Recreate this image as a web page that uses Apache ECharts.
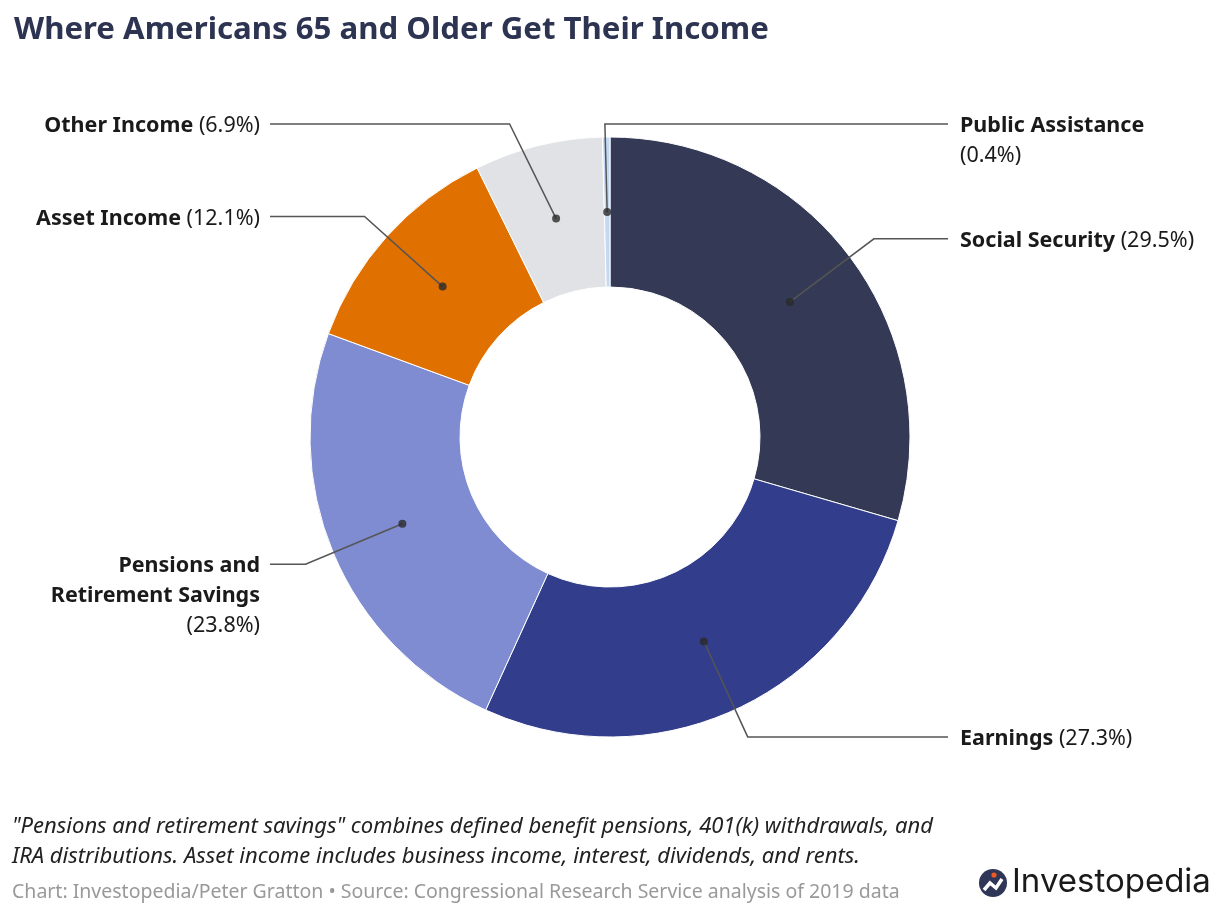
<!DOCTYPE html>
<html>
<head>
<meta charset="utf-8">
<script src="https://cdn.jsdelivr.net/npm/echarts@6/dist/echarts.min.js"></script>
<style>
html,body{margin:0;padding:0;background:#fff;}
#chart{width:1220px;height:916px;}
</style>
</head>
<body>
<div id="chart"></div>
<script>
// ---- data ----
const categories = ['Social Security', 'Earnings', 'Pensions and Retirement Savings', 'Asset Income', 'Other Income', 'Public Assistance'];
const labelNames = ['Social Security', 'Earnings', 'Pensions and\nRetirement Savings', 'Asset Income', 'Other Income', 'Public Assistance'];
const shares = [29.5, 27.3, 23.8, 12.1, 6.9, 0.4];
const colors = ['#343a55', '#323e8b', '#7f8cd1', '#e07000', '#e1e2e6', '#c3d9f5'];
const pctOnNewLine = [false, false, true, false, false, true];

// ---- layout constants ----
const CX = 610, CY = 437, R_IN = 150, R_OUT = 300, R_DOT = 225, R_ELBOW = 330;
const TOP_LIMIT = 124, RIGHT_END = 948, LEFT_END = 270, RIGHT_X = 960, LEFT_X = 260, LH = 30;

const total = shares.reduce((a, b) => a + b, 0);
let cum = 0;
const mids = shares.map(v => { const m = cum + v / 2; cum += v; return m; });

const geom = mids.map(m => {
  const a = m / total * Math.PI * 2;
  const s = Math.sin(a), c = Math.cos(a);
  const dot = [CX + R_DOT * s, CY - R_DOT * c];
  let elbow = [CX + R_ELBOW * s, CY - R_ELBOW * c];
  const right = (m / total < 0.5) || (m / total > 0.99);
  let ly = elbow[1];
  if (ly < TOP_LIMIT) {
    ly = TOP_LIMIT;
    // pull the elbow further out sideways when the label is clamped to the top row
    const t = (CY - TOP_LIMIT) / Math.max(c, 0.001);
    const ex = CX + Math.min(t, R_ELBOW * 1.2) * s * 1.3;
    elbow = [ex, TOP_LIMIT];
  }
  return { dot, elbow, ly, right };
});

const labelFmt = i => '{b|' + labelNames[i].split('\n').join('}\n{b|') + '}' +
  (pctOnNewLine[i] ? '\n{p|(' : '{p| (') + shares[i].toFixed(1) + '%)}';

const pieData = categories.map((name, i) => ({
  name: name, value: shares[i], itemStyle: { color: colors[i] }
}));
const labelData = categories.map((name, i) => ({
  name: name, value: shares[i], label: { formatter: labelFmt(i) }
}));

const dotData = mids.map(m => [R_DOT, m]);

const chart = echarts.init(document.getElementById('chart'), null, { renderer: 'canvas' });
const FONT = 'Noto Sans';

chart.setOption({
  backgroundColor: '#ffffff',
  animation: false,
  title: {
    text: 'Where Americans 65 and Older Get Their Income',
    left: 9, top: 10,
    textStyle: { fontFamily: FONT, fontWeight: 'bold', fontSize: 31.2, color: '#2d3452' }
  },
  polar: { center: [CX, CY], radius: R_OUT },
  angleAxis: { type: 'value', min: 0, max: total, startAngle: 90, clockwise: true, show: false },
  radiusAxis: { type: 'value', min: 0, max: R_OUT, show: false },
  series: [
    {
      type: 'pie',
      center: [CX, CY],
      radius: [R_IN, R_OUT],
      startAngle: 90,
      clockwise: true,
      silent: true,
      itemStyle: { borderColor: '#ffffff', borderWidth: 1 },
      label: { show: false },
      labelLine: { show: false },
      data: pieData,
      z: 2
    },
    {
      type: 'pie',
      center: [CX, CY],
      radius: [R_IN, R_OUT],
      startAngle: 90,
      clockwise: true,
      avoidLabelOverlap: false,
      silent: true,
      itemStyle: { color: 'rgba(0,0,0,0)', borderWidth: 0 },
      label: {
        show: true,
        position: 'outside',
        fontFamily: FONT,
        fontSize: 21.5,
        rich: {
          b: { fontFamily: FONT, fontWeight: 'bold', fontSize: 21.5, color: '#1a1a1a', lineHeight: LH },
          p: { fontFamily: FONT, fontWeight: 'normal', fontSize: 21.5, color: '#1a1a1a', lineHeight: LH }
        }
      },
      labelLine: { show: true, length: 20, length2: 20, lineStyle: { color: '#555555', width: 1.5 } },
      labelLayout: function (p) {
        const g = geom[p.dataIndex];
        return {
          x: g.right ? RIGHT_X : LEFT_X,
          y: g.ly - LH / 2 + 2,
          align: g.right ? 'left' : 'right',
          verticalAlign: 'top',
          labelLinePoints: [g.dot, g.elbow, [g.right ? RIGHT_END : LEFT_END, g.ly]]
        };
      },
      data: labelData,
      z: 4
    },
    {
      type: 'scatter',
      coordinateSystem: 'polar',
      symbol: 'circle',
      symbolSize: 8,
      silent: true,
      itemStyle: { color: '#2b2b2b' },
      data: dotData,
      z: 6
    }
  ],
  graphic: [
    {
      type: 'text', left: 12, top: 812,
      style: {
        text: '"Pensions and retirement savings" combines defined benefit pensions, 401(k) withdrawals, and\nIRA distributions. Asset income includes business income, interest, dividends, and rents.',
        fontFamily: FONT, fontStyle: 'italic', fontSize: 22, lineHeight: 30, fill: '#222222'
      }
    },
    {
      type: 'text', left: 12, top: 882,
      style: {
        text: 'Chart: Investopedia/Peter Gratton • Source: Congressional Research Service analysis of 2019 data',
        fontFamily: FONT, fontSize: 19.5, fill: '#999999'
      }
    },
    {
      type: 'group', left: 979, top: 869,
      children: [
        { type: 'circle', shape: { cx: 14, cy: 15, r: 14 }, style: { fill: '#2f3657' } },
        { type: 'polyline', shape: { points: [[5, 22], [11, 15], [17, 20], [23, 11]] }, style: { stroke: '#ffffff', lineWidth: 3.5, fill: null } },
        { type: 'circle', shape: { cx: 15, cy: 7, r: 2.6 }, style: { fill: '#f05a22' } }
      ]
    },
    {
      type: 'text', left: 1012, top: 866,
      style: { text: 'Investopedia', fontFamily: 'Inter', fontSize: 33, fill: '#1a1a1a' }
    }
  ]
});
</script>
</body>
</html>
